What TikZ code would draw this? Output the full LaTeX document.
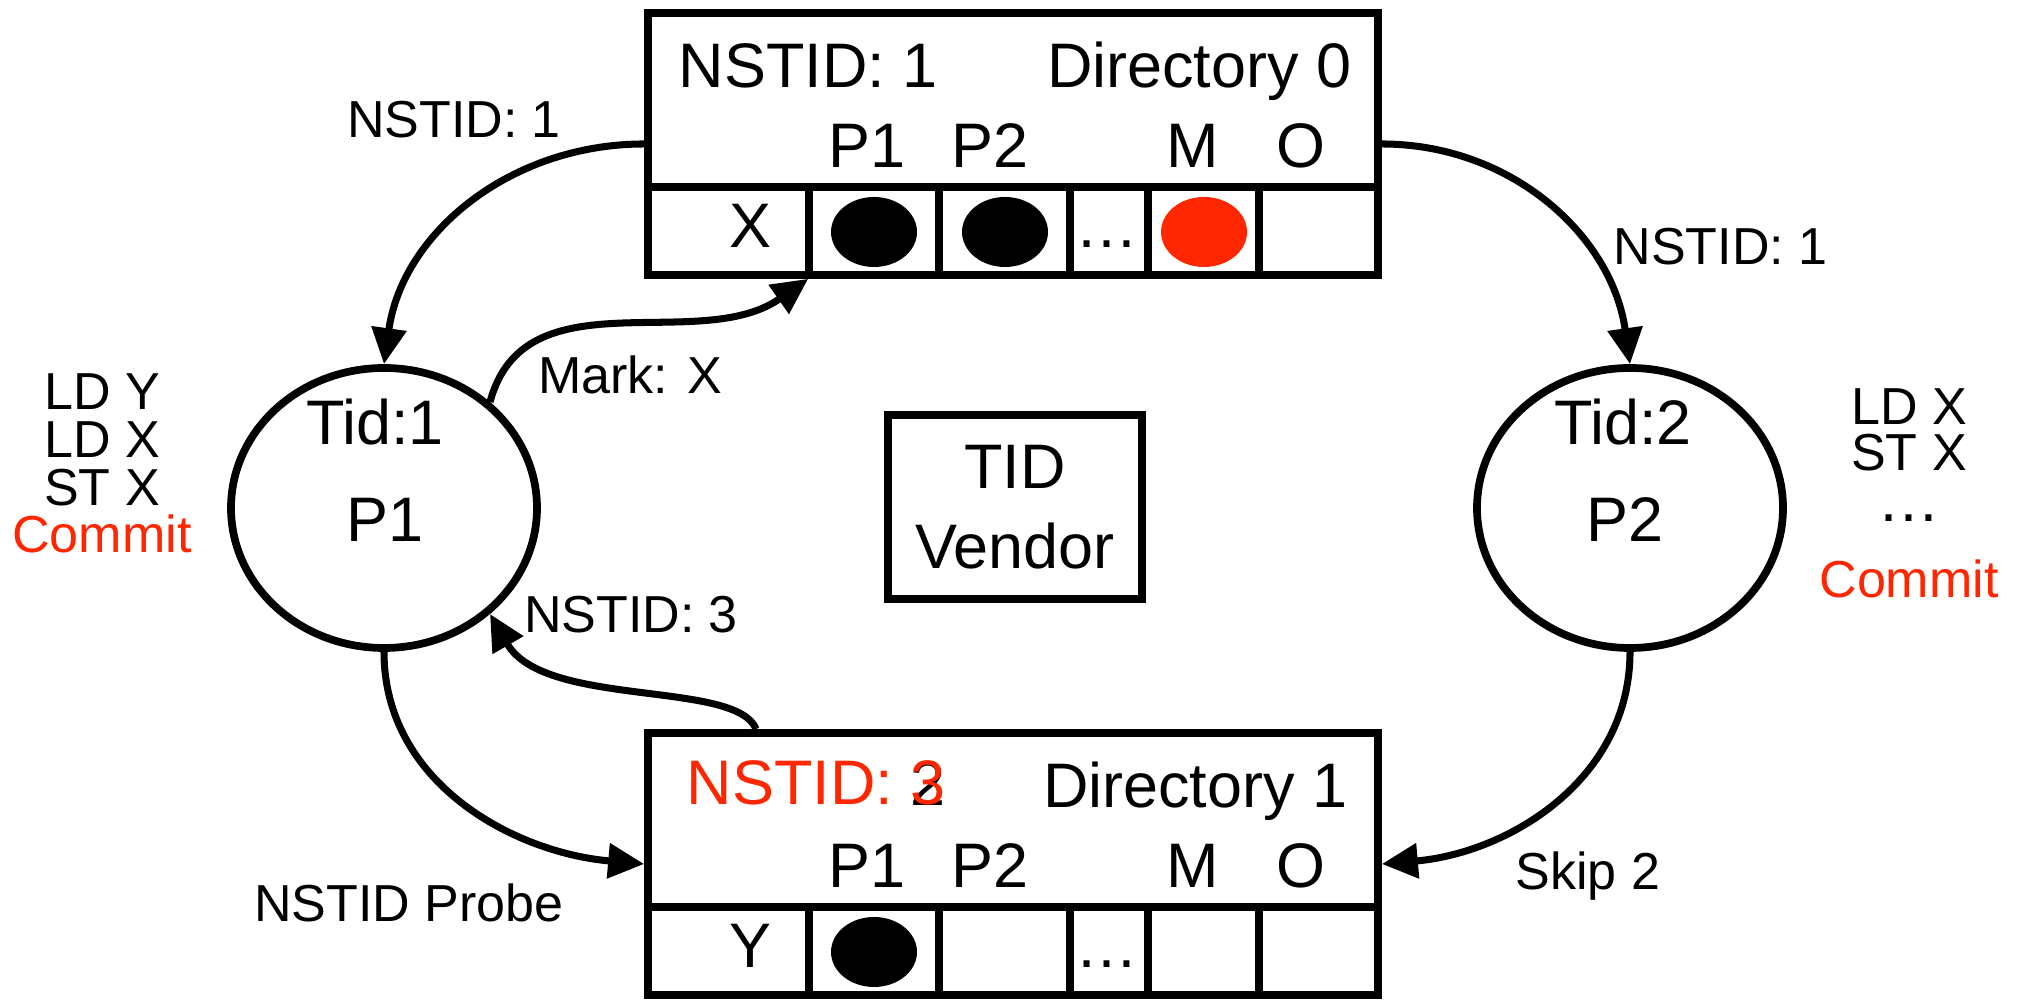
\documentclass[tikz,border=0pt]{standalone}
\usepackage{fontspec}
\setmainfont{Liberation Sans}
\usetikzlibrary{shapes.geometric, arrows.meta}

\definecolor{rot}{RGB}{255,38,0}
\newcommand{\grossschrift}{\fontsize{17.9}{22.8}\selectfont}
\newcommand{\kleinschrift}{\fontsize{14.8}{13.6}\selectfont}

\begin{document}
\begin{tikzpicture}[
		kasten/.style={draw, line width=2.2pt, inner sep=0pt},
		prozess/.style={draw, ellipse, line width=2.2pt, inner sep=0pt, minimum width=3.06cm, minimum height=2.80cm},
		pfeil/.style={line width=2.0pt, -{Triangle[length=0.36cm,width=0.34cm]}},
		gross/.style={font=\grossschrift, inner sep=0pt},
		klein/.style={font=\kleinschrift, inner sep=0pt}
	]
		\useasboundingbox (0,0) rectangle (20.24,10);
		
		% Verzeichnis 0 (oben)
		\node[kasten, minimum width=7.30cm, minimum height=2.62cm] (dir0) at (10.13,8.56) {};
		\draw[line width=2.2pt] (6.48,8.13) -- (13.78,8.13);
		\foreach \x in {8.09,9.39,10.70,11.48,12.59}
			\draw[line width=2.2pt] (\x,7.25) -- (\x,8.13);
		\node[gross, anchor=base west] (nstid0) at (6.78,9.12) {NSTID: 1};
		\node[gross, anchor=base east] (name0) at (13.52,9.12) {Directory 0};
		\node[gross, anchor=base] (adr0) at (7.50,7.52) {X};
		\fill (8.74,7.68) ellipse (0.43 and 0.35); % P1
		\fill (10.05,7.68) ellipse (0.43 and 0.35); % P2
		\node[gross, anchor=base] (pkt0) at (11.07,7.52) {…};
		\fill[rot] (12.04,7.68) ellipse (0.43 and 0.35); % M
		
		% Verzeichnis 1 (unten)
		\node[kasten, minimum width=7.30cm, minimum height=2.62cm] (dir1) at (10.13,1.36) {};
		\draw[line width=2.2pt] (6.48,0.93) -- (13.78,0.93);
		\foreach \x in {8.09,9.39,10.70,11.48,12.59}
			\draw[line width=2.2pt] (\x,0.05) -- (\x,0.93);
		\node[gross, anchor=base west] (alt1) at (6.86,1.94) {\phantom{NSTID: }2};
		\node[gross, anchor=base west, text=rot] (nstid1) at (6.86,1.95) {NSTID: 3};
		\node[gross, anchor=base east] (name1) at (13.48,1.92) {Directory 1};
		\node[gross, anchor=base] (adr1) at (7.50,0.32) {Y};
		\fill (8.74,0.48) ellipse (0.43 and 0.35); % P1
		\node[gross, anchor=base] (pkt1) at (11.07,0.32) {…};
		
		% Spaltenköpfe in beiden Verzeichnissen
		\foreach \y/\d in {8.32/0,1.12/1} {
			\node[gross, anchor=base] (kopfa\d) at (8.67,\y) {P1};
			\node[gross, anchor=base] (kopfb\d) at (9.90,\y) {P2};
			\node[gross, anchor=base] (kopfm\d) at (11.93,\y) {M};
			\node[gross, anchor=base] (kopfo\d) at (13.01,\y) {O};
		}
		
		% Prozesse
		\node[prozess] (p1) at (3.84,4.92) {};
		\node[gross, anchor=base] (tid1) at (3.75,5.55) {Tid:1};
		\node[gross, anchor=base] (name p1) at (3.85,4.58) {P1};
		\node[prozess] (p2) at (16.30,4.92) {};
		\node[gross, anchor=base] (tid2) at (16.23,5.55) {Tid:2};
		\node[gross, anchor=base] (name p2) at (16.25,4.58) {P2};
		
		% TID-Vergabe
		\node[kasten, gross, align=center, minimum width=2.54cm, minimum height=1.84cm] (tidv) at (10.15,4.93) {TID\\Vendor};
		
		% Befehlsfolgen
		\node[klein, align=center, anchor=north] (ops1) at (1.02,6.27) {LD Y\\LD X\\ST X\\\textcolor{rot}{Commit}};
		\node[klein, font={\fontsize{14.8}{13.1}\selectfont}, align=center, anchor=north] (ops2) at (19.09,6.12) {LD X\\ST X\\[1.4pt]{\fontsize{17.9}{13.1}\selectfont …}\\[8.6pt]\textcolor{rot}{Commit}};
		
		% Nachrichten
		\draw[pfeil] (dir0.west) to[out=180,in=82] (p1.north);
		\draw[pfeil] (dir0.east) to[out=0,in=98] (p2.north);
		\draw[pfeil] (p1.south) to[out=-90,in=175] (dir1.west);
		\draw[pfeil] (p2.south) to[out=-90,in=5] (dir1.east);
		\coordinate (markziel) at ([xshift=1.64cm]dir0.south west);
		\draw[pfeil] (p1.45) to[out=75,in=-145] (markziel);
		\coordinate (nstidstart) at ([xshift=1.12cm]dir1.north west);
		\draw[pfeil] (nstidstart) to[out=112,in=-60,out looseness=0.47,in looseness=0.96] (p1.-45);
		
		% Beschriftung der Nachrichten
		\node[klein, anchor=base] (lbl01) at (4.54,8.62) {NSTID: 1};
		\node[klein, anchor=base west] (lbl02) at (16.13,7.35) {NSTID: 1};
		\node[klein, anchor=base] (lblmark) at (6.30,6.06) {Mark: X};
		\node[klein, anchor=base] (lbl3) at (6.31,3.67) {NSTID: 3};
		\node[klein, anchor=base] (lblprobe) at (4.09,0.78) {NSTID Probe};
		\node[klein, anchor=base] (lblskip) at (15.88,1.10) {Skip 2};
	\end{tikzpicture}
\end{document}
